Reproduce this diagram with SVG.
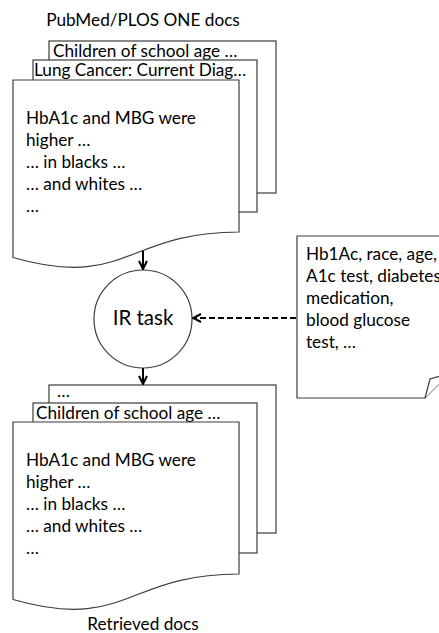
<svg xmlns="http://www.w3.org/2000/svg" width="439" height="633" viewBox="0 0 439 633">
<defs>
<style>
text{font-family:Lato,"Open Sans","Liberation Sans",sans-serif;font-size:17.2px;fill:#000}
.doc{fill:#fff;stroke:#3c3c3c;stroke-width:1.2}
.arrow{fill:none;stroke:#000;stroke-width:2}
.dash{stroke-dasharray:6 3}
</style>
<marker id="ah" viewBox="0 0 10 10" refX="9" refY="5" markerWidth="10" markerHeight="10" markerUnits="userSpaceOnUse" orient="auto">
<path d="M1,1 L9,5 L1,9" fill="none" stroke="#000" stroke-width="2"/>
</marker>
</defs>
<rect width="439" height="633" fill="#fff"/>
<text x="143" y="26" text-anchor="middle">PubMed/PLOS ONE docs</text>
<g id="input-docs">
<rect class="doc" x="49" y="41" width="227" height="152"/>
<text x="53" y="57">Children of school age …</text>
<rect class="doc" x="33" y="60" width="224" height="152"/>
<text x="34" y="76">Lung Cancer: Current Diag…</text>
<path class="doc" d="M13,80 H239 V232 C126,232 126,290 13,257.5 Z"/>
<text x="26" y="124">HbA1c and MBG were</text>
<text x="26" y="146">higher …</text>
<text x="26" y="168">… in blacks …</text>
<text x="26" y="190">… and whites …</text>
<text x="26" y="212">…</text>
</g>
<g id="ir-task">
<circle class="doc" cx="143" cy="319" r="49"/>
<text x="143" y="325" text-anchor="middle" style="font-size:20.5px">IR task</text>
</g>
<g id="query">
<path class="doc" d="M297,236 H460 V373 H450 L425,398 H297 Z"/>
<path class="doc" d="M425,398 L430,379 L450,373"/>
<text x="306" y="260">Hb1Ac, race, age,</text>
<text x="306" y="282">A1c test, diabetes</text>
<text x="306" y="304">medication,</text>
<text x="306" y="326">blood glucose</text>
<text x="306" y="348">test, …</text>
</g>
<g id="retrieved-docs">
<rect class="doc" x="49" y="385" width="227" height="148"/>
<text x="57" y="397">…</text>
<rect class="doc" x="33" y="403" width="224" height="150"/>
<text x="36" y="419">Children of school age …</text>
<path class="doc" d="M13,422 H239 V574 C126,574 126,632 13,599.5 Z"/>
<text x="26" y="466">HbA1c and MBG were</text>
<text x="26" y="488">higher …</text>
<text x="26" y="510">… in blacks …</text>
<text x="26" y="532">… and whites …</text>
<text x="26" y="554">…</text>
</g>
<text x="143" y="630" text-anchor="middle">Retrieved docs</text>
<g id="connectors">
<line class="arrow" x1="143" y1="251" x2="143" y2="269" marker-end="url(#ah)"/>
<line class="arrow" x1="143" y1="368" x2="143" y2="384" marker-end="url(#ah)"/>
<line class="arrow dash" x1="296" y1="318" x2="193" y2="318" marker-end="url(#ah)"/>
</g>
</svg>
